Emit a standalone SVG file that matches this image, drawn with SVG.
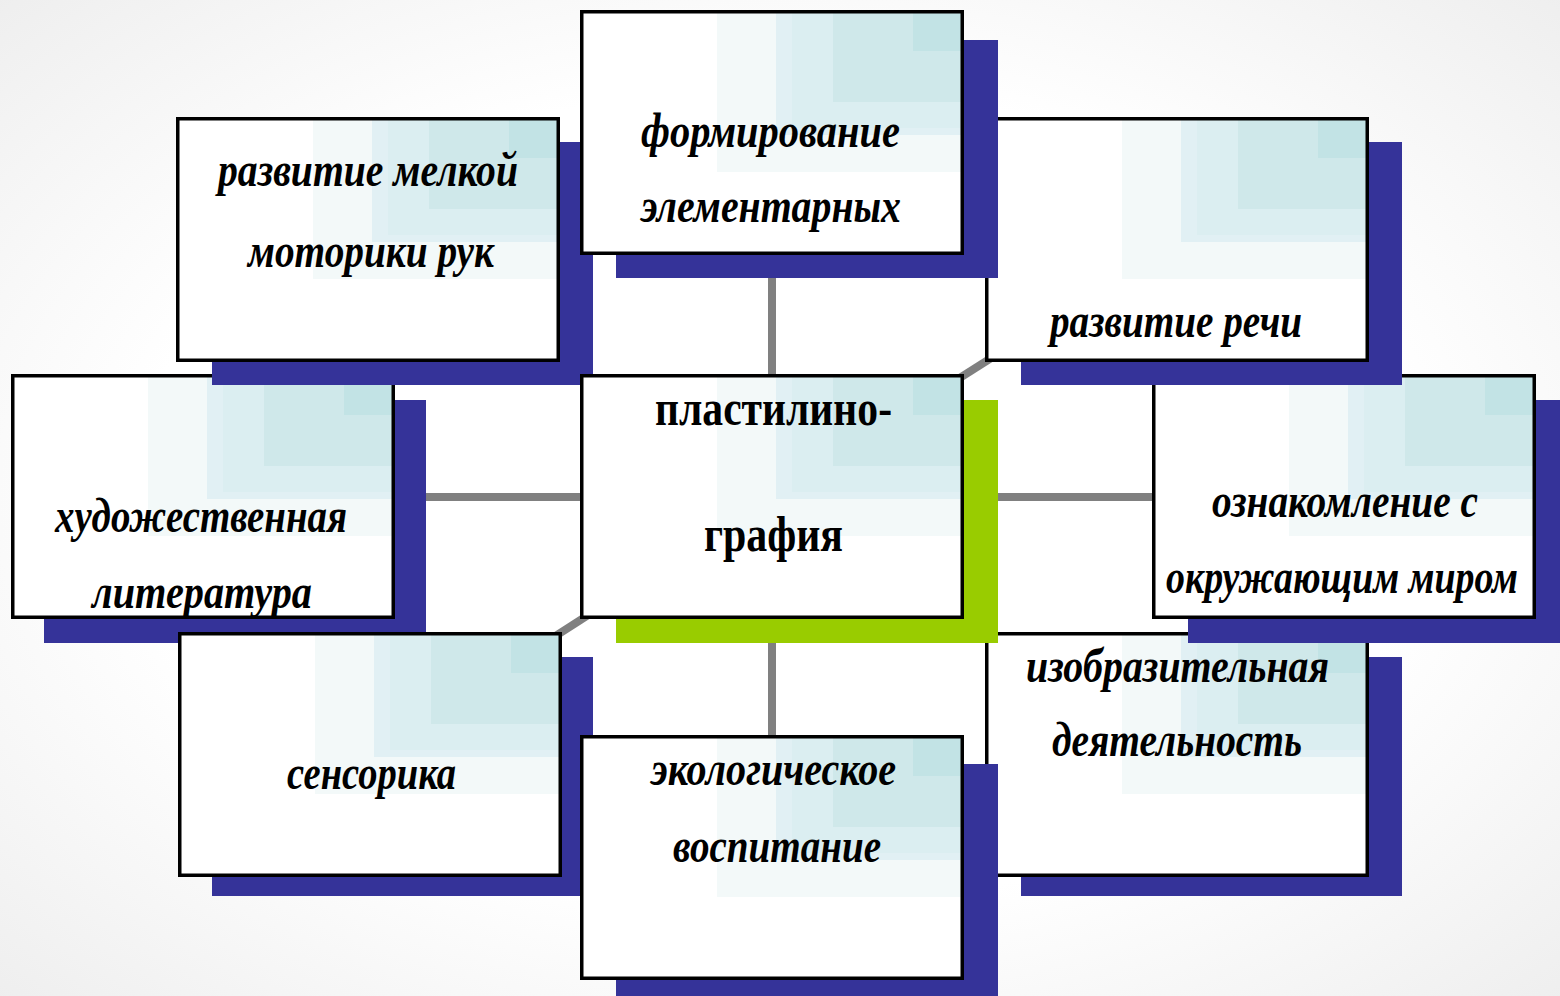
<svg xmlns="http://www.w3.org/2000/svg" xmlns:xlink="http://www.w3.org/1999/xlink" width="1560" height="996" viewBox="0 0 1560 996">
<defs>
<radialGradient id="bg" cx="50%" cy="50%" r="75%">
<stop offset="0" stop-color="#ffffff"/>
<stop offset="0.55" stop-color="#ffffff"/>
<stop offset="1" stop-color="#ececec"/>
</radialGradient>
<g id="card">
<rect x="0" y="0" width="384" height="245" fill="#ffffff"/>
<rect x="137" y="0" width="247" height="162" fill="#f3f9f9"/>
<rect x="196" y="0" width="188" height="125" fill="#e1f0f4"/>
<rect x="212" y="0" width="172" height="118" fill="#dbeef1"/>
<rect x="253" y="0" width="131" height="92" fill="#cfe8ea"/>
<rect x="333" y="0" width="51" height="41" fill="#c2e3e5"/>
<rect x="1.75" y="1.75" width="380.5" height="241.5" fill="none" stroke="#000000" stroke-width="3.5"/>
</g>
</defs>
<style>
.sh{fill:#353399}
.shg{fill:#99cc00}
.conn line{stroke:#808080;stroke-width:8}
.t{font-family:"Liberation Serif","Times New Roman",serif;font-weight:bold;font-style:italic;font-size:48px;fill:#000000}
.tc{font-family:"Liberation Serif","Times New Roman",serif;font-weight:bold;font-size:50px;fill:#000000}
</style>
<rect x="0" y="0" width="1560" height="996" fill="url(#bg)"/>
<g id="connectors" class="conn">
<line x1="772" y1="497" x2="772" y2="133"/>
<line x1="772" y1="497" x2="772" y2="858"/>
<line x1="772" y1="497" x2="203" y2="497"/>
<line x1="772" y1="497" x2="1344" y2="497"/>
<line x1="772" y1="497" x2="368" y2="240"/>
<line x1="772" y1="497" x2="1177" y2="240"/>
<line x1="772" y1="497" x2="370" y2="755"/>
<line x1="772" y1="497" x2="1177" y2="755"/>
</g>
<g id="node-br">
<rect class="sh" x="1021" y="657" width="381" height="239"/>
<use xlink:href="#card" x="985" y="632"/>
<text class="t" x="1026" y="682" textLength="303" lengthAdjust="spacingAndGlyphs">изобразительная</text>
<text class="t" x="1052" y="756" textLength="250" lengthAdjust="spacingAndGlyphs">деятельность</text>
</g>
<g id="node-r">
<rect class="sh" x="1188" y="400" width="382" height="243"/>
<use xlink:href="#card" x="1152" y="374"/>
<text class="t" x="1212" y="517" textLength="266" lengthAdjust="spacingAndGlyphs">ознакомление с</text>
<text class="t" x="1166" y="593" textLength="352" lengthAdjust="spacingAndGlyphs">окружающим миром</text>
</g>
<g id="node-tr">
<rect class="sh" x="1021" y="142" width="381" height="243"/>
<use xlink:href="#card" x="985" y="117"/>
<text class="t" x="1050" y="337" textLength="252" lengthAdjust="spacingAndGlyphs">развитие речи</text>
</g>
<g id="node-l">
<rect class="sh" x="44" y="400" width="382" height="243"/>
<use xlink:href="#card" x="11" y="374"/>
<text class="t" x="55" y="532" textLength="292" lengthAdjust="spacingAndGlyphs">художественная</text>
<text class="t" x="92" y="608" textLength="220" lengthAdjust="spacingAndGlyphs">литература</text>
</g>
<g id="node-tl">
<rect class="sh" x="212" y="142" width="381" height="243"/>
<use xlink:href="#card" x="176" y="117"/>
<text class="t" x="218" y="186" textLength="300" lengthAdjust="spacingAndGlyphs">развитие мелкой</text>
<text class="t" x="248" y="267" textLength="246" lengthAdjust="spacingAndGlyphs">моторики рук</text>
</g>
<g id="node-t">
<rect class="sh" x="616" y="40" width="382" height="238"/>
<use xlink:href="#card" x="580" y="10"/>
<text class="t" x="641" y="147" textLength="259" lengthAdjust="spacingAndGlyphs">формирование</text>
<text class="t" x="641" y="222" textLength="260" lengthAdjust="spacingAndGlyphs">элементарных</text>
</g>
<g id="node-bl">
<rect class="sh" x="212" y="657" width="381" height="239"/>
<use xlink:href="#card" x="178" y="632"/>
<text class="t" x="287" y="789" textLength="169" lengthAdjust="spacingAndGlyphs">сенсорика</text>
</g>
<g id="node-center">
<rect class="shg" x="616" y="400" width="382" height="243"/>
<use xlink:href="#card" x="580" y="374"/>
<text class="tc" x="655" y="425" textLength="237" lengthAdjust="spacingAndGlyphs">пластилино-</text>
<text class="tc" x="704" y="551" textLength="139" lengthAdjust="spacingAndGlyphs">графия</text>
</g>
<g id="node-b">
<rect class="sh" x="616" y="764" width="382" height="240"/>
<use xlink:href="#card" x="580" y="735"/>
<text class="t" x="651" y="785" textLength="245" lengthAdjust="spacingAndGlyphs">экологическое</text>
<text class="t" x="673" y="862" textLength="208" lengthAdjust="spacingAndGlyphs">воспитание</text>
</g>
</svg>
